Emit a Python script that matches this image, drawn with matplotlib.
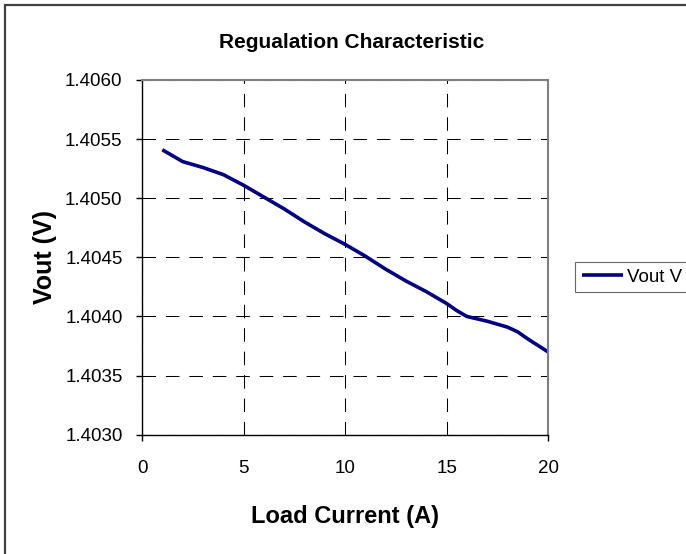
import numpy as np
import matplotlib.pyplot as plt
from matplotlib.patches import Rectangle

plt.rcParams['font.family'] = ['Liberation Sans', 'DejaVu Sans']

# load current (A) and output voltage (V)
current = [1, 1.5, 2, 3, 4, 5, 6, 7, 8, 9, 10, 11, 12, 13, 14, 15, 15.5, 16, 16.5,
           17, 18, 18.5, 19, 20]
vout = [1.40541, 1.40536, 1.40531, 1.40526, 1.40520, 1.40511, 1.40501, 1.40491,
        1.40480, 1.40470, 1.40461, 1.40451, 1.40440, 1.40430, 1.40421, 1.40411,
        1.40405, 1.40400, 1.40398, 1.40396, 1.40391, 1.40387, 1.40381, 1.40370]

xticks = [0, 5, 10, 15, 20]
yticks = [1.4030, 1.4035, 1.4040, 1.4045, 1.4050, 1.4055, 1.4060]

fig = plt.figure(figsize=(6.86, 5.54), dpi=100)
ax = fig.add_axes([0.207, 0.2153, 0.592, 0.6403])

# chart border (only left and top edges fall inside the picture)
fig.patches.append(Rectangle((5 / 686, -0.1), 1.2, 1.1 - 5 / 554, transform=fig.transFigure,
                             fill=False, edgecolor="#404040", linewidth=1.6))

ax.plot(current, vout, color="#000080", linewidth=2.6, label="Vout V",
        solid_joinstyle="round", solid_capstyle="butt")

ax.set_xlim(0, 20)
ax.set_ylim(1.4030, 1.4060)
ax.set_xticks(xticks)
ax.set_yticks(yticks)
ax.set_yticklabels(["%.4f" % t for t in yticks])
ax.grid(True, color="black", linestyle=(0, (13, 9.5)), linewidth=0.75)

for s in ["top", "right"]:
    ax.spines[s].set_color("#808080")
    ax.spines[s].set_linewidth(1.5)
for s in ["left", "bottom"]:
    ax.spines[s].set_color("black")
    ax.spines[s].set_linewidth(1.0)

ax.tick_params(axis="both", direction="out", length=4.5, width=1, labelsize=13.5, colors="black")
ax.tick_params(axis="y", pad=9.5)
ax.tick_params(axis="x", pad=14)
# only the end ticks show below the x axis
for t in ax.xaxis.get_major_ticks()[1:-1]:
    t.tick1line.set_visible(False)

ax.set_title("Regualation Characteristic", fontsize=15, fontweight="bold", pad=23, x=0.517)
ax.set_xlabel("Load Current (A)", fontsize=17, fontweight="bold", labelpad=20)
ax.set_ylabel("Vout (V)", fontsize=18, fontweight="bold", labelpad=6)

leg = fig.legend(loc="upper left", bbox_to_anchor=(575 / 686, 1 - 262 / 554), fontsize=13.5,
                 frameon=True, fancybox=False, handlelength=2.2, borderpad=0.35,
                 handletextpad=0.2, borderaxespad=0)
leg.get_frame().set_edgecolor("#404040")
leg.get_frame().set_linewidth(0.8)

fig.savefig("out.png", dpi=100)
